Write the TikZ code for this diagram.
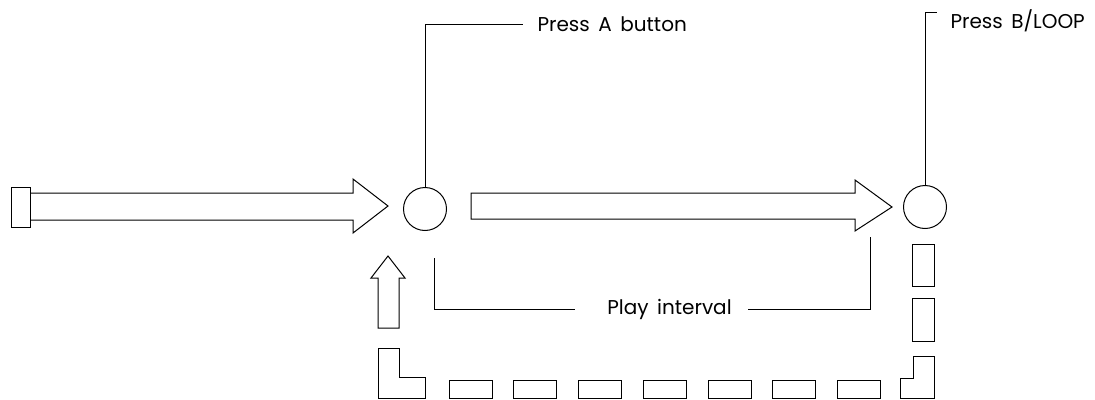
\documentclass[tikz,border=0pt]{standalone}
\usepackage{fontspec}
\setmainfont[WordSpace=1.6]{Poppins}
\usepackage{tikz}

\begin{document}
\begin{tikzpicture}[x=1pt,y=-1pt,line width=1pt,
  btn/.style={circle,draw,minimum size=43pt,inner sep=0pt},
  lbl/.style={font=\fontsize{20}{22}\selectfont,inner sep=0pt,anchor=west},
  gap/.style={line width=1pt}]
\useasboundingbox (0,0) rectangle (1095,399);
% buttons
\node[btn] (a) at (425,209) {};
\node[btn] (b) at (925,207) {};
% labels
\node[lbl] (ta) at (537,24.5) {Press A button};
\node[lbl] (tb) at (950,20.5) {Press B/LOOP};
\node[lbl,anchor=center] (play) at (669.5,309) {Play interval};
\coordinate (pa) at (434,258);
\coordinate (pb) at (870,237);
\coordinate (ka) at (523,24);
\coordinate (kb) at (937,12);
% leader lines
\draw[line width=0.9pt] (a.north) |- (ka);
\draw[line width=0.9pt] (b.north) |- (kb);
\draw[line width=0.9pt] (pa) |- ([xshift=-32pt]play.west);
\draw[line width=0.9pt] (pb) |- ([xshift=16pt]play.east);
% big arrows
\draw (11,187) rectangle (30,227);
\draw (30,193) -- (353,193) -- (353,179) -- (388,206) -- (353,233) -- (353,220) -- (30,220);
\draw (471,193) -- (855,193) -- (855,180) -- (892,207) -- (855,231) -- (855,219) -- (471,219) -- cycle;
% return path
\draw (378,328) -- (378,278) -- (371,278) -- (388,256) -- (405,278) -- (399,278) -- (399,328) -- cycle;
\draw (378,348) -- (399,348) -- (399,377) -- (425,377) -- (425,398) -- (378,398) -- cycle;
\foreach \x in {449,513.5,578,643,708,772,837}
  \draw[gap] (\x,380) rectangle +(43,18);
\draw (913,356) -- (934,356) -- (934,398) -- (900,398) -- (900,378) -- (913,378) -- cycle;
\draw[gap] (912,244) rectangle (934,286);
\draw[gap] (912,298) rectangle (934,341);
\end{tikzpicture}
\end{document}
